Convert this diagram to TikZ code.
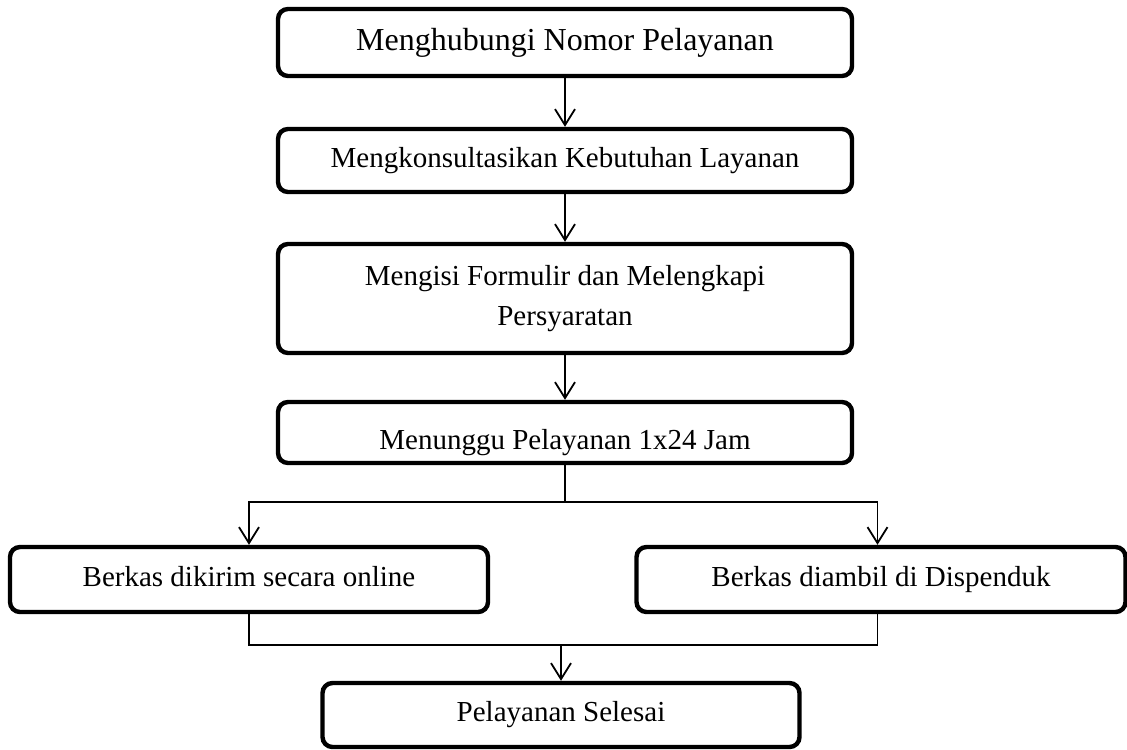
\documentclass[tikz,border=0pt]{standalone}
\usepackage{fontspec}
\setmainfont{Liberation Serif}
\usepackage{tikz}
\usetikzlibrary{positioning,arrows.meta}
\tikzstyle{kotak} = [rectangle, rounded corners=5pt, minimum width=287pt, minimum height=31.5pt, text centered, draw=black, line width=2.2pt, font=\fontsize{14.5}{20}\selectfont]
\tikzstyle{cabang} = [kotak, minimum width=239pt, minimum height=32.5pt, text height=10pt, text depth=3.2pt]
\tikzstyle{panah} = [line width=0.9pt,-{Straight Barb[length=8pt,width=10pt]}]
\tikzstyle{garis} = [line width=0.8pt]

\begin{document}
\begin{tikzpicture}[node distance=59pt]
			
			\useasboundingbox (0,0) rectangle (563.5pt,-374.5pt);
			
			\node (hubungi) [kotak, minimum height=33.5pt, font=\fontsize{16}{19}\selectfont] at (282.5pt,-21.25pt) {Menghubungi Nomor Pelayanan};
			\node (konsul) [kotak, below of=hubungi] {Mengkonsultasikan Kebutuhan Layanan};
			\node (formulir) [kotak, below of=konsul, yshift=-10pt, minimum height=54.5pt, align=center] {Mengisi Formulir dan Melengkapi\\Persyaratan};
			\node (tunggu) [kotak, below of=formulir, yshift=-8pt, minimum height=30.5pt] {\rule{0pt}{20pt}Menunggu Pelayanan 1x24 Jam};
			\node (online) [cabang, below of=tunggu, xshift=-158pt, yshift=-14.5pt] {Berkas dikirim secara online};
			\node (ambil) [cabang, below of=tunggu, xshift=158pt, yshift=-14.5pt, minimum width=244.5pt] {Berkas diambil di Dispenduk};
			\node (selesai) [cabang, below of=tunggu, xshift=-2pt, yshift=-82.25pt, minimum width=238.5pt, minimum height=32pt] {Pelayanan Selesai};
			
			\path (tunggu.south) ++(0,-18.5pt) coordinate (pisah);
			\path (selesai.north) ++(0,18pt) coordinate (gabung);
			
			\draw[panah] (hubungi.south) -- (konsul.north);
			\draw[panah] (konsul.south) -- (formulir.north);
			\draw[panah] (formulir.south) -- (tunggu.north);
			\draw[garis] (tunggu.south) -- (pisah);
			\draw[panah] (pisah) -| (online.north);
			\draw[panah] (pisah) -| ([xshift=-1.75pt]ambil.north);
			\draw[garis] (online.south) |- (gabung);
			\draw[garis] ([xshift=-1.75pt]ambil.south) |- (gabung);
			\draw[panah] (gabung) -- (selesai.north);
			
\end{tikzpicture}
\end{document}
